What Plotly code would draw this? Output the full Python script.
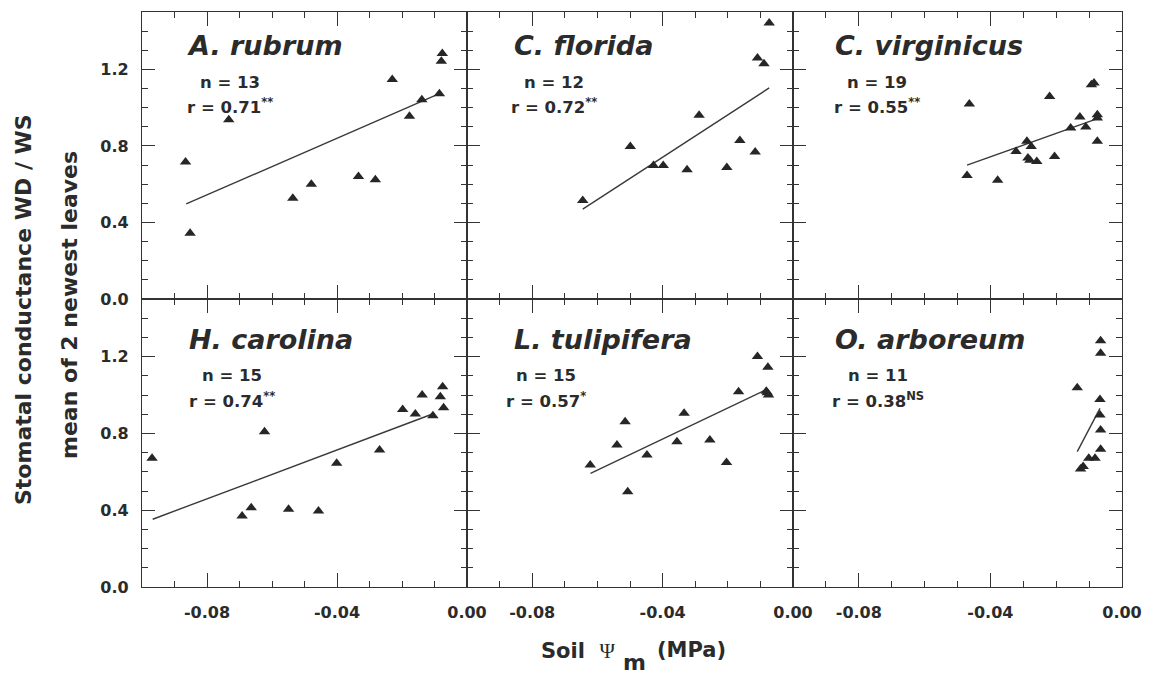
import plotly.graph_objects as go
from plotly.subplots import make_subplots

# ---------------- data ----------------
species = ["A. rubrum", "C. florida", "C. virginicus",
           "H. carolina", "L. tulipifera", "O. arboreum"]
n_text = ["n = 13", "n = 12", "n = 19", "n = 15", "n = 15", "n = 11"]
r_text = ["r = 0.71<sup>**</sup>", "r = 0.72<sup>**</sup>", "r = 0.55<sup>**</sup>",
          "r = 0.74<sup>**</sup>", "r = 0.57<sup>*</sup>", "r = 0.38<sup>NS</sup>"]

arub_x = [-0.0866, -0.0852, -0.0733, -0.0536, -0.0479, -0.0334, -0.0282,
          -0.0230, -0.0177, -0.0139, -0.0085, -0.0079, -0.0076]
arub_y = [0.716, 0.344, 0.937, 0.527, 0.600, 0.640, 0.623,
          1.147, 0.955, 1.042, 1.073, 1.242, 1.283]
arub_fit_x = [-0.0864, -0.0085]
arub_fit_y = [0.497, 1.073]

cflo_x = [-0.0645, -0.0499, -0.0428, -0.0398, -0.0325, -0.0288,
          -0.0203, -0.0163, -0.0116, -0.0109, -0.0089, -0.0073]
cflo_y = [0.515, 0.797, 0.698, 0.698, 0.675, 0.960,
          0.687, 0.829, 0.768, 1.260, 1.230, 1.443]
cflo_fit_x = [-0.0645, -0.0073]
cflo_fit_y = [0.470, 1.103]

cvir_x = [-0.0464, -0.0471, -0.0378, -0.0322, -0.0289, -0.0276, -0.0286,
          -0.0259, -0.0280, -0.0220, -0.0205, -0.0156, -0.0128, -0.0110,
          -0.0093, -0.0085, -0.0075, -0.0075, -0.0075]
cvir_y = [1.019, 0.646, 0.620, 0.771, 0.824, 0.797, 0.737,
          0.719, 0.725, 1.059, 0.745, 0.894, 0.951, 0.899,
          1.120, 1.129, 0.963, 0.946, 0.824]
cvir_fit_x = [-0.0471, -0.0079]
cvir_fit_y = [0.700, 0.940]

hcar_x = [-0.0969, -0.0692, -0.0664, -0.0623, -0.0549, -0.0457, -0.0401,
          -0.0269, -0.0198, -0.0159, -0.0138, -0.0105, -0.0082, -0.0075, -0.0072]
hcar_y = [0.671, 0.370, 0.413, 0.809, 0.405, 0.396, 0.644,
          0.713, 0.925, 0.901, 1.000, 0.892, 0.991, 1.043, 0.934]
hcar_fit_x = [-0.0967, -0.0100]
hcar_fit_y = [0.353, 0.905]

ltul_x = [-0.0622, -0.0540, -0.0515, -0.0507, -0.0448, -0.0356, -0.0334,
          -0.0255, -0.0204, -0.0167, -0.0109, -0.0077, -0.0079, -0.0075, -0.0082]
ltul_y = [0.635, 0.740, 0.861, 0.496, 0.688, 0.757, 0.905,
          0.766, 0.648, 1.017, 1.200, 1.144, 1.012, 1.000, 1.020]
ltul_fit_x = [-0.0621, -0.0084]
ltul_fit_y = [0.592, 1.026]

oarb_x = [-0.0136, -0.0065, -0.0065, -0.0067, -0.0067, -0.0065,
          -0.0065, -0.0082, -0.0101, -0.0118, -0.0126]
oarb_y = [1.038, 1.283, 1.217, 0.977, 0.896, 0.818,
          0.717, 0.670, 0.670, 0.627, 0.615]
oarb_fit_x = [-0.0136, -0.0067]
oarb_fit_y = [0.705, 0.930]

x_tick_vals = [-0.08, -0.04, 0.00]
x_tick_text = ["-0.08", "-0.04", "0.00"]
y_tick_vals = [0.0, 0.4, 0.8, 1.2]
y_tick_text = ["0.0", "0.4", "0.8", "1.2"]

# ---------------- figure ----------------
FONT = "DejaVu Sans"
TXT = "#2b2b2b"
INK = "#262626"

points = [(arub_x, arub_y, arub_fit_x, arub_fit_y),
          (cflo_x, cflo_y, cflo_fit_x, cflo_fit_y),
          (cvir_x, cvir_y, cvir_fit_x, cvir_fit_y),
          (hcar_x, hcar_y, hcar_fit_x, hcar_fit_y),
          (ltul_x, ltul_y, ltul_fit_x, ltul_fit_y),
          (oarb_x, oarb_y, oarb_fit_x, oarb_fit_y)]

fig = make_subplots(rows=2, cols=3, horizontal_spacing=0, vertical_spacing=0)

W, H = 1153, 677
L, R, T, B = 142, 31, 12, 90
pw, ph = W - L - R, H - T - B
col_px = [(142, 467), (467, 793), (793, 1122)]
row_px = [(12, 299), (299, 587)]

title_x = [0.132, 0.138, 0.123, 0.137, 0.137, 0.123]
nr_x = [0.271, 0.267, 0.255, 0.277, 0.241, 0.258]

for i, (px, py, fx, fy) in enumerate(points):
    r, c = i // 3 + 1, i % 3 + 1
    fig.add_trace(go.Scatter(x=fx, y=fy, mode="lines",
                             line=dict(color="#3a3a3a", width=1.4),
                             showlegend=False, hoverinfo="skip"), row=r, col=c)
    fig.add_trace(go.Scatter(x=px, y=py, mode="markers",
                             marker=dict(symbol="triangle-up", size=10, color=INK),
                             showlegend=False), row=r, col=c)

    idx = "" if i == 0 else str(i + 1)
    x0, x1 = col_px[c - 1]
    y0, y1 = row_px[r - 1]
    xd = [(x0 - L) / pw, (x1 - L) / pw]
    yd = [(H - B - y1) / ph, (H - B - y0) / ph]
    fig.layout["xaxis" + idx].update(
        domain=xd, range=[-0.1, 0.0], tickvals=x_tick_vals, ticktext=x_tick_text,
        showticklabels=(r == 2), ticks="inside", ticklen=14, tickwidth=1.3,
        tickcolor="#333", showline=True, linecolor="#333", linewidth=1.2,
        mirror="ticks", showgrid=False, zeroline=False, ticklabelstandoff=11,
        minor=dict(ticks="inside", ticklen=6, tickwidth=1.2, tickcolor="#333",
                   dtick=0.01, tick0=0, showgrid=False),
        tickfont=dict(family=FONT, size=16, color=TXT, weight="bold"),
    )
    fig.layout["yaxis" + idx].update(
        domain=yd, range=[0, 1.5], tickvals=y_tick_vals, ticktext=y_tick_text,
        showticklabels=(c == 1), ticks="inside", ticklen=13, tickwidth=1.3,
        tickcolor="#333", showline=True, linecolor="#333", linewidth=1.2,
        mirror="ticks", showgrid=False, zeroline=False, ticklabelstandoff=9,
        minor=dict(ticks="inside", ticklen=6, tickwidth=1.2, tickcolor="#333",
                   dtick=0.1, tick0=0, showgrid=False),
        tickfont=dict(family=FONT, size=16, color=TXT, weight="bold"),
    )

    xref = "x" + idx + " domain"
    yref = "y" + idx + " domain"
    ty = 0.882 if r == 1 else 0.861
    ny = 0.756 if r == 1 else 0.733
    ry = 0.672 if r == 1 else 0.649
    fig.add_annotation(text="<i>" + species[i] + "</i>", xref=xref, yref=yref,
                       x=title_x[i], y=ty, xanchor="left", yanchor="middle",
                       showarrow=False,
                       font=dict(family=FONT, size=27, color=TXT, weight="bold"))
    fig.add_annotation(text=n_text[i], xref=xref, yref=yref, x=nr_x[i], y=ny,
                       xanchor="center", yanchor="middle", showarrow=False,
                       font=dict(family=FONT, size=16.5, color=TXT, weight="bold"))
    fig.add_annotation(text=r_text[i], xref=xref, yref=yref, x=nr_x[i], y=ry,
                       xanchor="center", yanchor="middle", showarrow=False,
                       font=dict(family=FONT, size=16.5, color=TXT, weight="bold"))

# axis titles
fig.add_annotation(text="Stomatal conductance WD / WS", xref="paper", yref="paper",
                   x=(24 - L) / pw, y=(H - B - 310) / ph, textangle=-90,
                   xanchor="center", yanchor="middle", showarrow=False,
                   font=dict(family=FONT, size=22, color=TXT, weight="bold"))
fig.add_annotation(text="mean of 2 newest leaves", xref="paper", yref="paper",
                   x=(69 - L) / pw, y=(H - B - 305) / ph, textangle=-90,
                   xanchor="center", yanchor="middle", showarrow=False,
                   font=dict(family=FONT, size=22, color=TXT, weight="bold"))
# x title: "Soil Ψ", subscript "m", "(MPa)"
fig.add_annotation(
    text='Soil  <span style="font-family:Liberation Serif;font-weight:normal">Ψ</span>',
    xref="paper", yref="paper", x=(618 - L) / pw, y=(H - B - 651) / ph,
    xanchor="right", yanchor="middle", showarrow=False,
    font=dict(family=FONT, size=21, color=TXT, weight="bold"))
fig.add_annotation(
    text="m", xref="paper", yref="paper", x=(634 - L) / pw, y=(H - B - 662) / ph,
    xanchor="center", yanchor="middle", showarrow=False, borderpad=0,
    font=dict(family=FONT, size=22, color=TXT, weight="bold"))
fig.add_annotation(
    text="(MPa)", xref="paper", yref="paper", x=(655 - L) / pw, y=(H - B - 650) / ph,
    xanchor="left", yanchor="middle", showarrow=False,
    font=dict(family=FONT, size=21, color=TXT, weight="bold"))

fig.update_layout(width=W, height=H, margin=dict(l=L, r=R, t=T, b=B),
                  plot_bgcolor="white", paper_bgcolor="white", showlegend=False)

fig.write_html("out.html")
